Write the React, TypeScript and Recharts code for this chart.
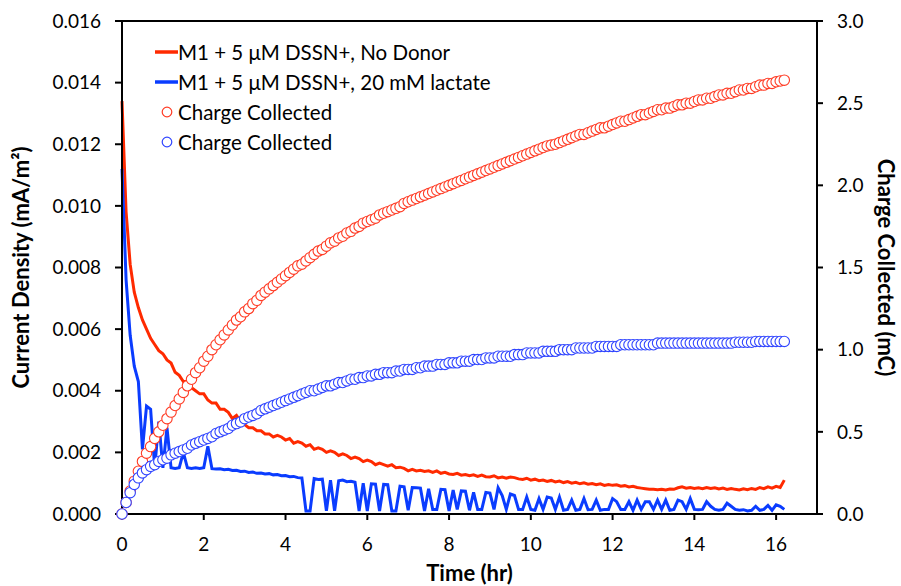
import React from 'react';
import { ComposedChart, Line, XAxis, YAxis, Legend, ReferenceLine } from 'recharts';

const FONT = 'Lato, "Open Sans", sans-serif';
const RED = '#ff2a00';
const BLUE = '#0a3cff';
const RED_RING = '#ff3b24';
const BLUE_RING = '#3045ff';

// time (hr)
const time = [
  0.0, 0.1, 0.2, 0.3, 0.4, 0.5, 0.6, 0.7, 0.8, 0.9,
  1.0, 1.1, 1.2, 1.3, 1.4, 1.5, 1.6, 1.7, 1.8, 1.9,
  2.0, 2.1, 2.2, 2.3, 2.4, 2.5, 2.6, 2.7, 2.8, 2.9,
  3.0, 3.1, 3.2, 3.3, 3.4, 3.5, 3.6, 3.7, 3.8, 3.9,
  4.0, 4.1, 4.2, 4.3, 4.4, 4.5, 4.6, 4.7, 4.8, 4.9,
  5.0, 5.1, 5.2, 5.3, 5.4, 5.5, 5.6, 5.7, 5.8, 5.9,
  6.0, 6.1, 6.2, 6.3, 6.4, 6.5, 6.6, 6.7, 6.8, 6.9,
  7.0, 7.1, 7.2, 7.3, 7.4, 7.5, 7.6, 7.7, 7.8, 7.9,
  8.0, 8.1, 8.2, 8.3, 8.4, 8.5, 8.6, 8.7, 8.8, 8.9,
  9.0, 9.1, 9.2, 9.3, 9.4, 9.5, 9.6, 9.7, 9.8, 9.9,
  10.0, 10.1, 10.2, 10.3, 10.4, 10.5, 10.6, 10.7, 10.8, 10.9,
  11.0, 11.1, 11.2, 11.3, 11.4, 11.5, 11.6, 11.7, 11.8, 11.9,
  12.0, 12.1, 12.2, 12.3, 12.4, 12.5, 12.6, 12.7, 12.8, 12.9,
  13.0, 13.1, 13.2, 13.3, 13.4, 13.5, 13.6, 13.7, 13.8, 13.9,
  14.0, 14.1, 14.2, 14.3, 14.4, 14.5, 14.6, 14.7, 14.8, 14.9,
  15.0, 15.1, 15.2, 15.3, 15.4, 15.5, 15.6, 15.7, 15.8, 15.9,
  16.0, 16.1, 16.2,
];

// current density (mA/m2), no donor
const noDonorCurrent = [
  0.0134, 0.0098, 0.0081, 0.0072, 0.0067, 0.0063, 0.006, 0.0057, 0.0055, 0.0053,
  0.0052, 0.005, 0.0049, 0.0046, 0.0045, 0.0043, 0.0043, 0.0041, 0.004, 0.0039,
  0.0039, 0.0037, 0.0036, 0.0036, 0.0034, 0.0034, 0.0033, 0.0031, 0.0032, 0.003,
  0.0029, 0.0028, 0.0028, 0.0027, 0.0027, 0.0026, 0.0026, 0.0025, 0.00255, 0.0025,
  0.0024, 0.00245, 0.0023, 0.00235, 0.0023, 0.0022, 0.00225, 0.0021, 0.00215, 0.0021,
  0.002, 0.00205, 0.002, 0.0019, 0.00195, 0.0019, 0.0018, 0.00185, 0.0018, 0.0017,
  0.00175, 0.0017, 0.0016, 0.00165, 0.0016, 0.00155, 0.0016, 0.0015, 0.00152, 0.00148,
  0.0014, 0.00145, 0.0014, 0.00142, 0.00138, 0.0014, 0.00135, 0.0014, 0.00132, 0.00135,
  0.0013, 0.00128, 0.00132, 0.00126, 0.00128, 0.00124, 0.00127, 0.00122, 0.00126, 0.00121,
  0.0012, 0.00124, 0.00117, 0.0012, 0.00116, 0.0012, 0.00118, 0.00114, 0.00112, 0.00116,
  0.0011, 0.00113, 0.00108, 0.0011, 0.00106, 0.00109, 0.00104, 0.00107, 0.00102, 0.00105,
  0.001, 0.00103, 0.00098, 0.00101, 0.00097, 0.00099, 0.00095, 0.00098, 0.00093, 0.00096,
  0.00093, 0.00095, 0.0009, 0.00092, 0.00088, 0.0009, 0.00086, 0.00084, 0.00082, 0.0008,
  0.0008, 0.00079, 0.0008, 0.00078, 0.00081, 0.0008, 0.00085, 0.00088, 0.00084, 0.00086,
  0.00083, 0.00085, 0.00082, 0.00086, 0.00083, 0.00085, 0.00081, 0.00084, 0.0008, 0.00083,
  0.0008, 0.00078, 0.00082, 0.00079, 0.00083, 0.0008, 0.00086, 0.00082, 0.00088, 0.00084,
  0.0009, 0.00086, 0.0011,
];

// current density (mA/m2), 20 mM lactate
const lactateCurrent = [
  0.0112, 0.0076, 0.0058, 0.0048, 0.0043, 0.0021, 0.0035, 0.0034, 0.0015, 0.003,
  0.0015, 0.0028, 0.0015, 0.00148, 0.0015, 0.002, 0.0015, 0.00148, 0.0015, 0.00148,
  0.0015, 0.0022, 0.00147, 0.00146, 0.00147, 0.00144, 0.00145, 0.00141, 0.00142, 0.00138,
  0.00139, 0.00135, 0.00136, 0.00132, 0.00133, 0.0013, 0.00131, 0.00127, 0.00128, 0.00124,
  0.00125, 0.00121, 0.00122, 0.00118, 0.00117, 0.0001, 0.0001, 0.00115, 0.00112, 0.00113,
  0.0001, 0.0011, 0.0001, 0.00108, 0.0011, 0.00105, 0.00106, 0.00103, 0.0001, 0.001,
  0.0001, 0.00098, 0.00097, 0.0001, 0.00096, 0.00095, 0.0001, 0.0001, 0.0009, 0.00088,
  0.00012, 0.00086, 0.00085, 0.00084, 0.0001, 0.00082, 0.00015, 0.00015, 0.0008, 0.00079,
  0.0001, 0.00078, 0.00015, 0.00075, 0.00074, 0.00012, 0.0007, 0.00015, 0.00015, 0.0007,
  0.00068, 0.00015, 0.00085, 0.0006, 0.00015, 0.00065, 0.0006, 0.00015, 0.00015, 0.00055,
  0.00015, 0.00012, 0.0005, 0.00015, 0.00055, 0.00052, 0.00015, 0.00055, 0.00012, 0.00015,
  0.00045, 0.00012, 0.00015, 0.0005, 0.00014, 0.00015, 0.00045, 0.00012, 0.00015, 0.00015,
  0.0005, 0.0004, 0.00015, 0.00015, 0.0004, 0.00012, 0.00045, 0.00015, 0.0004, 0.0004,
  0.00015, 0.00045, 0.00015, 0.00045, 0.00012, 0.00015, 0.00045, 0.0004, 0.00015, 0.0005,
  0.00015, 0.00014, 0.00015, 0.0004, 0.00025, 0.00015, 0.00012, 0.00015, 0.00035, 0.00025,
  0.00015, 0.00012, 0.00014, 0.0001, 0.00012, 0.00025, 0.00012, 0.00015, 0.00028, 0.00012,
  0.0003, 0.00025, 0.00015,
];

// charge collected (mC), no donor
const noDonorCharge = [
  0, 0.07, 0.14, 0.2, 0.26, 0.32, 0.37, 0.41, 0.46, 0.5,
  0.54, 0.58, 0.62, 0.66, 0.7, 0.74, 0.78, 0.82, 0.86, 0.89,
  0.93, 0.96, 1.0, 1.03, 1.06, 1.09, 1.12, 1.15, 1.18, 1.2,
  1.23, 1.25, 1.28, 1.3, 1.33, 1.35, 1.37, 1.39, 1.41, 1.43,
  1.45, 1.47, 1.49, 1.51, 1.52, 1.54, 1.56, 1.58, 1.6, 1.61,
  1.63, 1.65, 1.66, 1.68, 1.69, 1.71, 1.72, 1.74, 1.75, 1.77,
  1.78, 1.79, 1.8, 1.82, 1.83, 1.84, 1.85, 1.86, 1.87, 1.89,
  1.9, 1.91, 1.92, 1.93, 1.94, 1.95, 1.96, 1.97, 1.98, 1.99,
  2.0, 2.01, 2.02, 2.03, 2.04, 2.05, 2.06, 2.07, 2.08, 2.09,
  2.1, 2.11, 2.12, 2.13, 2.14, 2.15, 2.16, 2.17, 2.18, 2.19,
  2.2, 2.21, 2.22, 2.23, 2.24, 2.245, 2.25, 2.26, 2.27, 2.28,
  2.29, 2.3, 2.31, 2.31, 2.32, 2.33, 2.34, 2.35, 2.35, 2.36,
  2.37, 2.38, 2.39, 2.39, 2.4, 2.41, 2.42, 2.43, 2.43, 2.44,
  2.45, 2.46, 2.46, 2.47, 2.47, 2.48, 2.49, 2.49, 2.5, 2.5,
  2.51, 2.52, 2.52, 2.53, 2.53, 2.54, 2.55, 2.55, 2.56, 2.56,
  2.57, 2.58, 2.58, 2.59, 2.59, 2.6, 2.61, 2.61, 2.62, 2.62,
  2.63, 2.635, 2.64,
];

// charge collected (mC), 20 mM lactate
const lactateCharge = [
  0, 0.07, 0.13, 0.18, 0.22, 0.25, 0.27, 0.29, 0.3, 0.32,
  0.33, 0.34, 0.36, 0.37, 0.38, 0.39, 0.4, 0.42, 0.43, 0.44,
  0.45, 0.46, 0.47, 0.49, 0.5, 0.51, 0.52, 0.54, 0.55, 0.56,
  0.58, 0.59, 0.6, 0.61, 0.63, 0.64, 0.65, 0.66, 0.67, 0.68,
  0.69, 0.7, 0.71, 0.72, 0.73, 0.74, 0.75, 0.75, 0.76, 0.77,
  0.78, 0.78, 0.79, 0.8, 0.8, 0.81, 0.82, 0.82, 0.83, 0.83,
  0.84, 0.84, 0.85, 0.85, 0.86, 0.86, 0.86, 0.87, 0.87, 0.88,
  0.88, 0.88, 0.89, 0.89, 0.9, 0.9, 0.9, 0.91, 0.91, 0.91,
  0.92, 0.92, 0.92, 0.93, 0.93, 0.93, 0.94, 0.94, 0.94, 0.95,
  0.95, 0.95, 0.96, 0.96, 0.96, 0.96, 0.97, 0.97, 0.97, 0.98,
  0.98, 0.98, 0.98, 0.99, 0.99, 0.99, 0.99, 1.0, 1.0, 1.0,
  1.0, 1.01, 1.01, 1.01, 1.01, 1.01, 1.02, 1.02, 1.02, 1.02,
  1.02, 1.02, 1.03, 1.03, 1.03, 1.03, 1.03, 1.03, 1.03, 1.03,
  1.03, 1.04, 1.04, 1.04, 1.04, 1.04, 1.04, 1.04, 1.04, 1.04,
  1.04, 1.04, 1.04, 1.04, 1.04, 1.04, 1.04, 1.04, 1.04, 1.04,
  1.045, 1.045, 1.045, 1.045, 1.045, 1.05, 1.05, 1.05, 1.05, 1.05,
  1.05, 1.05, 1.05,
];

const xTicks = [0, 2, 4, 6, 8, 10, 12, 14, 16];
const leftTicks = [0, 0.002, 0.004, 0.006, 0.008, 0.01, 0.012, 0.014, 0.016];
const rightTicks = [0, 0.5, 1, 1.5, 2, 2.5, 3];

const rows = time.map((t, i) => ({
  t,
  redJ: noDonorCurrent[i],
  blueJ: lactateCurrent[i],
  redQ: noDonorCharge[i],
  blueQ: lactateCharge[i],
}));

const legendOrder = ['redJ', 'blueJ', 'redQ', 'blueQ'];
const legendColor: Record<string, string> = {
  redJ: RED,
  blueJ: BLUE,
  redQ: RED_RING,
  blueQ: BLUE_RING,
};

const LegendBox = ({ payload }: any) => {
  const items = [...(payload || [])].sort(
    (a: any, b: any) => legendOrder.indexOf(a.dataKey) - legendOrder.indexOf(b.dataKey)
  );
  return (
    <div style={{ fontFamily: FONT, fontSize: 20.5, color: '#000', lineHeight: 1 }}>
      {items.map((p: any, i: number) => (
        <div key={i} style={{ display: 'flex', alignItems: 'center', height: 30 }}>
          <svg width={23} height={14}>
            {p.type === 'circle' ? (
              <circle cx={12} cy={7} r={4.8} fill="#fff" stroke={legendColor[p.dataKey]} strokeWidth={1.2} />
            ) : (
              <line x1={0} y1={7} x2={23} y2={7} stroke={legendColor[p.dataKey]} strokeWidth={3.5} />
            )}
          </svg>
          <span style={{ whiteSpace: 'nowrap' }}>{p.value}</span>
        </div>
      ))}
    </div>
  );
};

const axisStroke = { stroke: '#000', strokeWidth: 2 };
const tickStyle = { fill: '#000', fontSize: 19, fontFamily: FONT };
const titleStyle = { fill: '#000', fontSize: 22, fontWeight: 700, fontFamily: FONT };

export default function App() {
  return (
    <div style={{ position: 'absolute', left: 0, top: 0, width: 901, height: 586, background: '#fff' }}>
      <ComposedChart width={901} height={586} data={rows} margin={{ top: 21, right: 0, bottom: 0, left: 0 }}>
        <XAxis
          dataKey="t"
          type="number"
          domain={[0, 17]}
          ticks={xTicks}
          height={72}
          tickSize={6}
          tickMargin={18}
          axisLine={axisStroke}
          tickLine={axisStroke}
          tick={tickStyle}
          label={{ value: 'Time (hr)', position: 'insideBottom', offset: 5, style: titleStyle }}
        />
        <YAxis
          yAxisId="left"
          domain={[0, 0.016]}
          ticks={leftTicks}
          width={122}
          tickSize={7}
          tickMargin={14}
          tickFormatter={(v: number) => v.toFixed(3)}
          axisLine={axisStroke}
          tickLine={axisStroke}
          tick={tickStyle}
          label={{
            value: 'Current Density (mA/m²)',
            angle: -90,
            position: 'insideLeft',
            offset: 21,
            textAnchor: 'middle',
            style: titleStyle,
          }}
        />
        <YAxis
          yAxisId="right"
          orientation="right"
          domain={[0, 3]}
          ticks={rightTicks}
          width={84}
          tickSize={6}
          tickMargin={14}
          tickFormatter={(v: number) => v.toFixed(1)}
          axisLine={axisStroke}
          tickLine={axisStroke}
          tick={tickStyle}
          label={{
            value: 'Charge Collected (mC)',
            angle: 90,
            position: 'insideRight',
            offset: 15,
            textAnchor: 'middle',
            style: titleStyle,
          }}
        />
        <ReferenceLine yAxisId="left" y={0.016} stroke="#000" strokeWidth={2} ifOverflow="visible" />
        <Legend
          layout="vertical"
          align="center"
          verticalAlign="middle"
          content={<LegendBox />}
          wrapperStyle={{ left: 155, top: 37, width: 'auto', height: 'auto' }}
        />
        <Line
          yAxisId="left"
          dataKey="redJ"
          name="M1 + 5 μM DSSN+, No Donor"
          type="linear"
          stroke={RED}
          strokeWidth={3}
          dot={false}
          activeDot={false}
          legendType="line"
          isAnimationActive={false}
        />
        <Line
          yAxisId="left"
          dataKey="blueJ"
          name="M1 + 5 μM DSSN+, 20 mM lactate"
          type="linear"
          stroke={BLUE}
          strokeWidth={3}
          dot={false}
          activeDot={false}
          legendType="line"
          isAnimationActive={false}
        />
        <Line
          yAxisId="right"
          dataKey="redQ"
          name="Charge Collected"
          type="linear"
          stroke="none"
          dot={{ r: 5.2, fill: '#fff', stroke: RED_RING, strokeWidth: 1.1 }}
          activeDot={false}
          legendType="circle"
          isAnimationActive={false}
        />
        <Line
          yAxisId="right"
          dataKey="blueQ"
          name="Charge Collected"
          type="linear"
          stroke="none"
          dot={{ r: 5.2, fill: '#fff', stroke: BLUE_RING, strokeWidth: 1.1 }}
          activeDot={false}
          legendType="circle"
          isAnimationActive={false}
        />
      </ComposedChart>
    </div>
  );
}
